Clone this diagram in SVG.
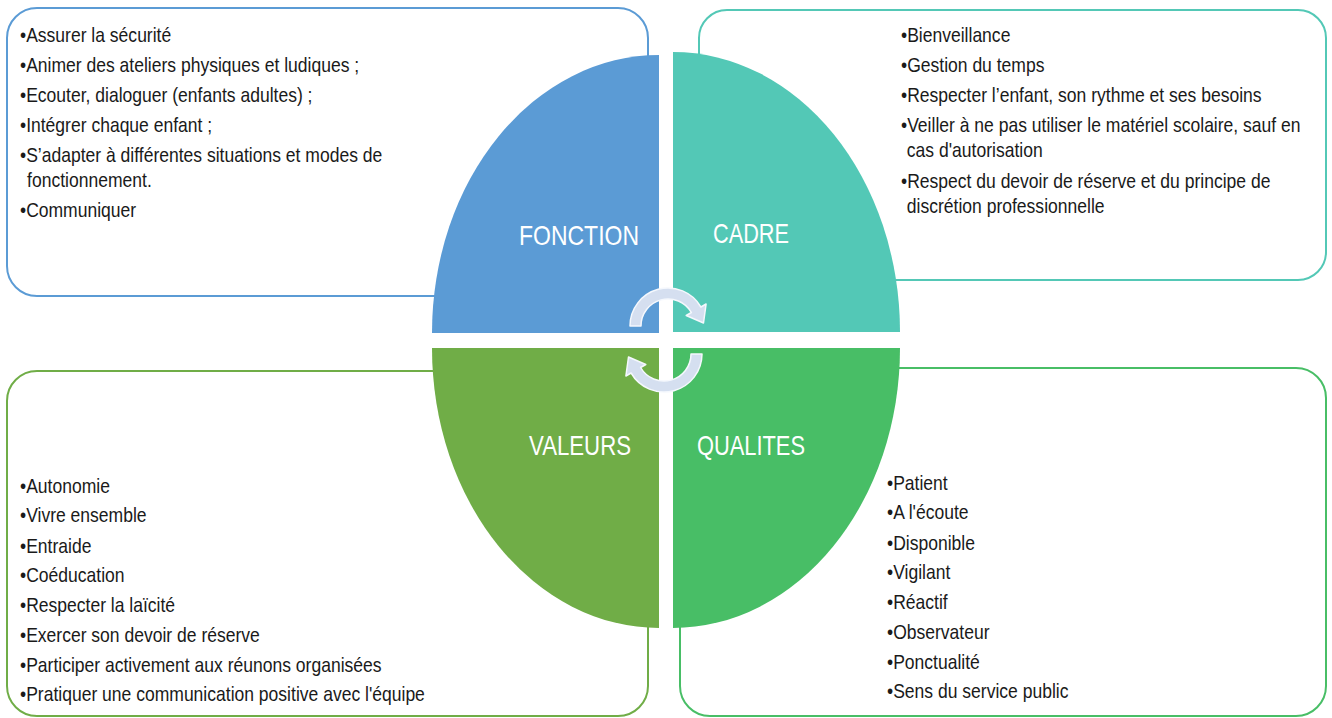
<svg xmlns="http://www.w3.org/2000/svg" width="1332" height="718" viewBox="0 0 1332 718">
<style>
.box{fill:none;stroke-width:2}
.txt{font-family:"Liberation Sans",Arial,sans-serif;font-size:21px;fill:#1a1a1a}
.ttl{font-family:"Liberation Sans",Arial,sans-serif;font-size:28px;fill:#ffffff}
.arr{fill:#D5DFF0;stroke:#F5F8FD;stroke-width:1.5;stroke-linejoin:round}
</style>
<defs>
<path id="arrow" d="M630,326 A38,38 0 0 1 700.9,307 L706.1,304 L703.5,323 L686.2,315.5 L691.4,312.5 A27,27 0 0 0 641,326 Z"/>
</defs>
<rect x="0" y="0" width="1332" height="718" fill="#ffffff"/>

<g id="node-fonction">
<rect class="box" x="7" y="8" width="641" height="288" rx="30" stroke="#5B9BD5"/>
<path d="M659,333 L432,333 A227,278 0 0 1 659,55 Z" fill="#5B9BD5"/>
<text class="ttl" x="519" y="245" textLength="120" lengthAdjust="spacingAndGlyphs">FONCTION</text>
<g transform="translate(20,0) scale(0.835,1)" class="txt">
<text x="0" y="42">•Assurer la sécurité</text>
<text x="0" y="72">•Animer des ateliers physiques et ludiques ;</text>
<text x="0" y="102">•Ecouter, dialoguer (enfants adultes) ;</text>
<text x="0" y="132">•Intégrer chaque enfant ;</text>
<text x="0" y="162">•S’adapter à différentes situations et modes de</text>
<text x="8.5" y="187">fonctionnement.</text>
<text x="0" y="217">•Communiquer</text>
</g>
</g>

<g id="node-cadre">
<rect class="box" x="699" y="10" width="627" height="270" rx="28" stroke="#53C8B6"/>
<path d="M673,332 L673,52 A227,280 0 0 1 900,332 Z" fill="#53C8B6"/>
<text class="ttl" x="713" y="243" textLength="76" lengthAdjust="spacingAndGlyphs">CADRE</text>
<g transform="translate(901,0) scale(0.835,1)" class="txt">
<text x="0" y="42">•Bienveillance</text>
<text x="0" y="72">•Gestion du temps</text>
<text x="0" y="102">•Respecter l’enfant, son rythme et ses besoins</text>
<text x="0" y="132">•Veiller à ne pas utiliser le matériel scolaire, sauf en</text>
<text x="7" y="157">cas d'autorisation</text>
<text x="0" y="188">•Respect du devoir de réserve et du principe de</text>
<text x="7" y="213">discrétion professionnelle</text>
</g>
</g>

<g id="node-valeurs">
<rect class="box" x="7" y="371" width="641" height="345" rx="30" stroke="#70AD47"/>
<path d="M659,348 L659,628 A227,280 0 0 1 432,348 Z" fill="#70AD47"/>
<text class="ttl" x="529" y="455" textLength="102" lengthAdjust="spacingAndGlyphs">VALEURS</text>
<g transform="translate(20,0) scale(0.835,1)" class="txt">
<text x="0" y="493">•Autonomie</text>
<text x="0" y="522">•Vivre ensemble</text>
<text x="0" y="553">•Entraide</text>
<text x="0" y="582">•Coéducation</text>
<text x="0" y="612">•Respecter la laïcité</text>
<text x="0" y="642">•Exercer son devoir de réserve</text>
<text x="0" y="672">•Participer activement aux réunons organisées</text>
<text x="0" y="701">•Pratiquer une communication positive avec l'équipe</text>
</g>
</g>

<g id="node-qualites">
<rect class="box" x="680" y="368" width="646" height="348" rx="30" stroke="#48BE66"/>
<path d="M673,348 L900,348 A227,280 0 0 1 673,628 Z" fill="#48BE66"/>
<text class="ttl" x="697" y="455" textLength="108" lengthAdjust="spacingAndGlyphs">QUALITES</text>
<g transform="translate(887,0) scale(0.835,1)" class="txt">
<text x="0" y="490">•Patient</text>
<text x="0" y="519">•A l'écoute</text>
<text x="0" y="550">•Disponible</text>
<text x="0" y="579">•Vigilant</text>
<text x="0" y="609">•Réactif</text>
<text x="0" y="639">•Observateur</text>
<text x="0" y="669">•Ponctualité</text>
<text x="0" y="698">•Sens du service public</text>
</g>
</g>

<g id="connectors">
<use href="#arrow" class="arr"/>
<use href="#arrow" class="arr" transform="rotate(180 666 340)"/>
</g>
</svg>
